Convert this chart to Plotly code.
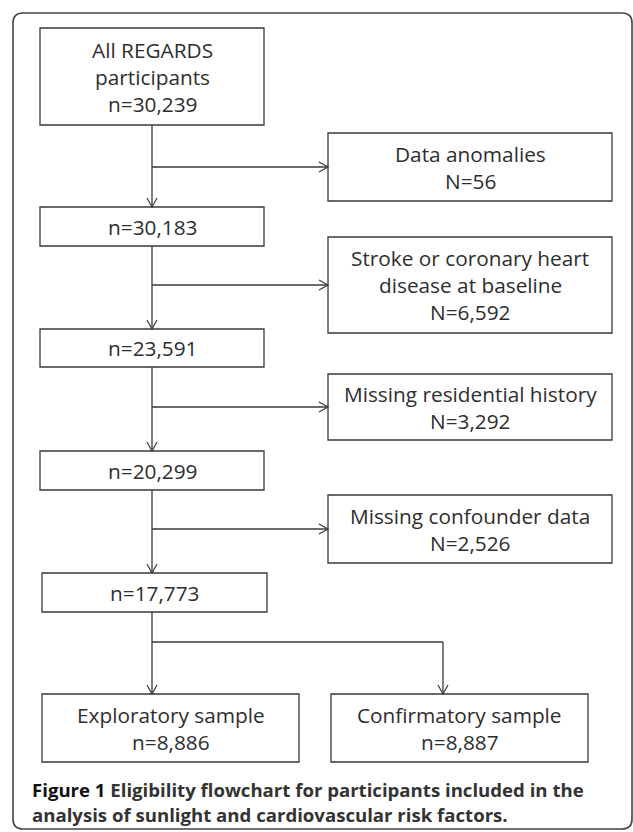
import plotly.graph_objects as go

W, H = 633, 832

# ---- content (texts) ----
main_labels = [
    ["All REGARDS", "participants", "n=30,239"],
    ["n=30,183"],
    ["n=23,591"],
    ["n=20,299"],
    ["n=17,773"],
]
excl_labels = [
    ["Data anomalies", "N=56"],
    ["Stroke or coronary heart", "disease at baseline", "N=6,592"],
    ["Missing residential history", "N=3,292"],
    ["Missing confounder data", "N=2,526"],
]
split_labels = [
    ["Exploratory sample", "n=8,886"],
    ["Confirmatory sample", "n=8,887"],
]
caption_bold = "Figure 1"
caption_lines = [" Eligibility flowchart for participants included in the",
                 "analysis of sunlight and cardiovascular risk factors."]

# ---- layout geometry (pixels) ----
main_boxes = [(40, 264, 28, 125), (40, 264, 207, 246), (40, 264, 329, 367),
              (40, 264, 451, 490), (42, 267, 573, 612)]
excl_boxes = [(328, 612, 133, 201), (328, 612, 237, 333), (328, 612, 374, 440),
              (328, 612, 495, 563)]
branch_y = [167, 285, 407, 529]
split_boxes = [(42, 299, 694, 762), (331, 588, 694, 762)]
spine_x = 152
split_y = 642
right_x = 443

LC = "#3a3a3a"
TC = "#2e2e2e"
FONT = "Open Sans"
FS = 20.8
LINE_H = 27

shapes = []
annots = []

def box(x0, x1, y0, y1):
    shapes.append(dict(type="rect", xref="x", yref="y", x0=x0, x1=x1, y0=y0, y1=y1,
                       line=dict(color=LC, width=1.3), fillcolor="rgba(0,0,0,0)"))

def line(x0, y0, x1, y1):
    shapes.append(dict(type="line", xref="x", yref="y", x0=x0, y0=y0, x1=x1, y1=y1,
                       line=dict(color=LC, width=1.3)))

def arrow_down(x, y):
    shapes.append(dict(type="path", xref="x", yref="y",
                       path=f"M {x-5},{y-9} L {x},{y} L {x+5},{y-9}",
                       line=dict(color=LC, width=1.2)))

def arrow_right(x, y):
    shapes.append(dict(type="path", xref="x", yref="y",
                       path=f"M {x-9},{y-5} L {x},{y} L {x-9},{y+5}",
                       line=dict(color=LC, width=1.2)))

def label(lines, bx):
    x0, x1, y0, y1 = bx
    cx, cy = (x0 + x1) / 2, (y0 + y1) / 2
    n = len(lines)
    for i, t in enumerate(lines):
        y = cy + (i - (n - 1) / 2) * LINE_H
        annots.append(dict(x=cx, y=y, xref="x", yref="y", text=t,
                           showarrow=False, xanchor="center", yanchor="middle",
                           font=dict(family=FONT, size=FS, color=TC)))

# outer rounded frame
r = 10
fx0, fy0, fx1, fy1 = 13, 13, 632, 829
shapes.append(dict(type="path", xref="x", yref="y",
                   path=(f"M {fx0+r},{fy0} L {fx1-r},{fy0} Q {fx1},{fy0} {fx1},{fy0+r} "
                         f"L {fx1},{fy1-r} Q {fx1},{fy1} {fx1-r},{fy1} L {fx0+r},{fy1} "
                         f"Q {fx0},{fy1} {fx0},{fy1-r} L {fx0},{fy0+r} Q {fx0},{fy0} {fx0+r},{fy0} Z"),
                   line=dict(color="#444444", width=1.6)))

for lab, bx in zip(main_labels, main_boxes):
    box(*bx)
    label(lab, bx)
for lab, bx in zip(excl_labels, excl_boxes):
    box(*bx)
    label(lab, bx)
for lab, bx in zip(split_labels, split_boxes):
    box(*bx)
    label(lab, bx)

# spine segments and arrows
for i in range(len(main_boxes) - 1):
    top = main_boxes[i][3]
    bot = main_boxes[i + 1][2]
    line(spine_x, top, spine_x, bot)
    arrow_down(spine_x, bot)
    by = branch_y[i]
    xe = excl_boxes[i][0]
    line(spine_x, by, xe, by)
    arrow_right(xe, by)

# final split
top = main_boxes[-1][3]
line(spine_x, top, spine_x, split_boxes[0][2])
arrow_down(spine_x, split_boxes[0][2])
line(spine_x, split_y, right_x, split_y)
line(right_x, split_y, right_x, split_boxes[1][2])
arrow_down(right_x, split_boxes[1][2])

# caption
cap_y = [789, 814]
CFS = 18.6
annots.append(dict(x=30, y=cap_y[0], xref="x", yref="y", showarrow=False,
                   xanchor="left", yanchor="middle",
                   text=f"<b><span style='color:#111111'>{caption_bold}</span>{caption_lines[0]}</b>",
                   font=dict(family=FONT, size=CFS, color="#333333")))
annots.append(dict(x=30, y=cap_y[1], xref="x", yref="y", showarrow=False,
                   xanchor="left", yanchor="middle",
                   text=f"<b>{caption_lines[1]}</b>",
                   font=dict(family=FONT, size=CFS, color="#333333")))

fig = go.Figure()
fig.update_layout(
    width=W, height=H, margin=dict(l=0, r=0, t=0, b=0),
    paper_bgcolor="white", plot_bgcolor="white", showlegend=False,
    xaxis=dict(range=[0, W], visible=False, fixedrange=True),
    yaxis=dict(range=[H, 0], visible=False, fixedrange=True),
    shapes=shapes, annotations=annots,
)
fig.write_html("out.html", config={"displayModeBar": False},
               post_script="document.body.style.margin='0';document.body.style.overflow='hidden';")
